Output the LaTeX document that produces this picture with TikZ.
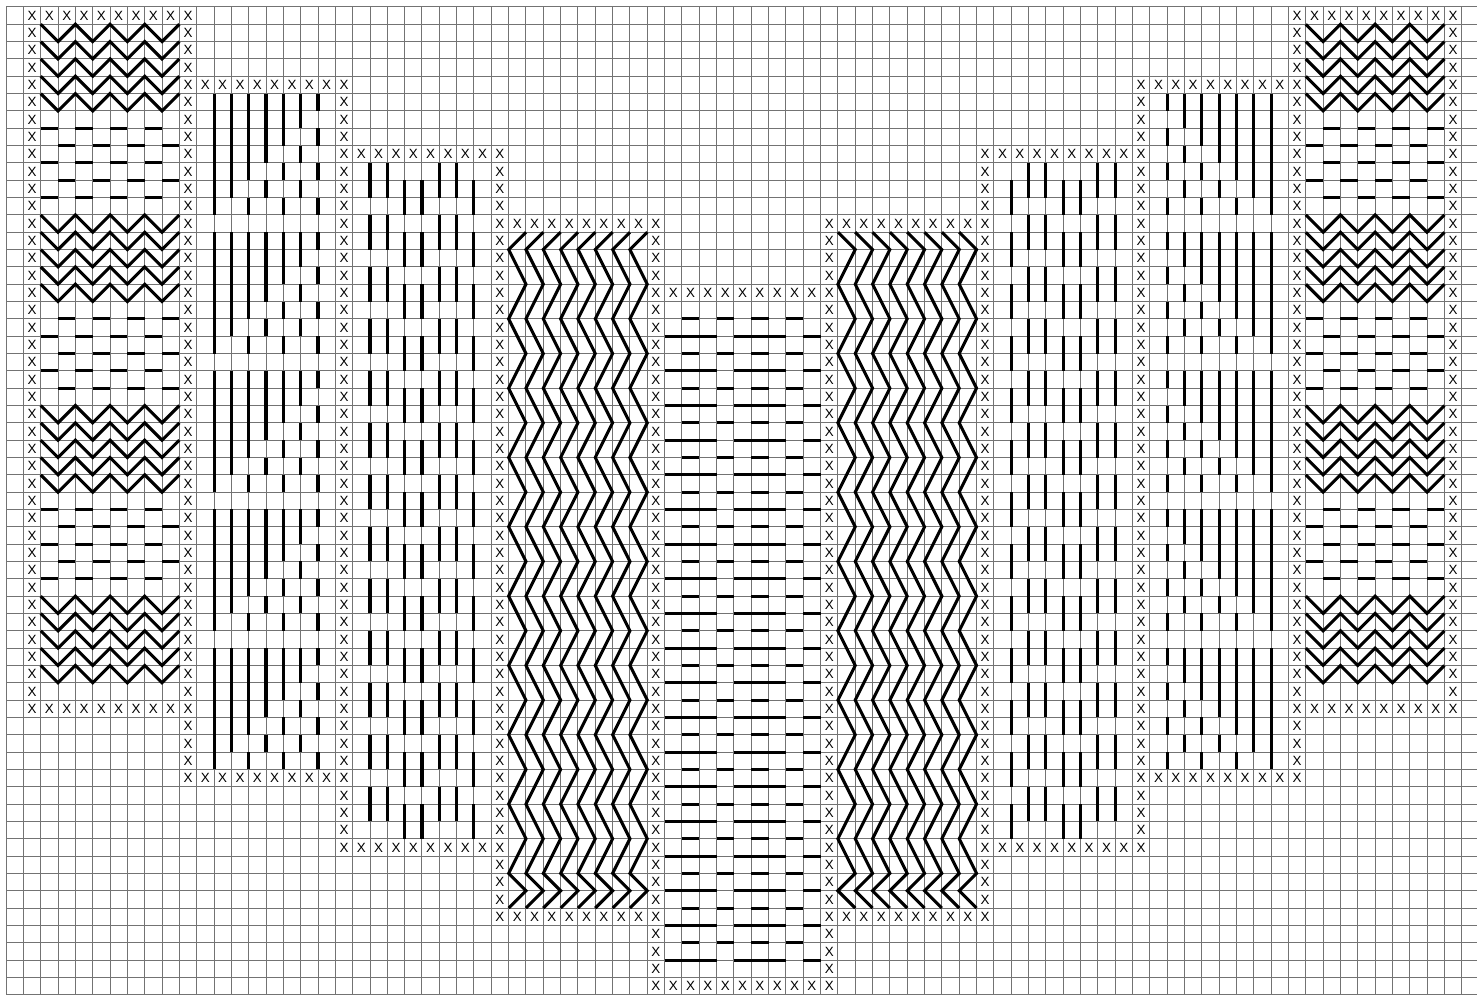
\documentclass[tikz,border=0pt]{standalone}
\usepackage{fontspec}
\setmainfont{Liberation Sans}

\begin{document}
\begin{tikzpicture}[
    x=5mm, y=-5mm,
    griglia/.style={line width=0.8pt,black!55},
    filo/.style={line width=2.5pt,black},
    croce/.style={inner sep=0pt,font=\fontsize{11}{12}\selectfont}]

  \useasboundingbox (-0.35,-0.4) rectangle (84.88,57.07);

  % ---- la griglia -----------------------------------------------------------
  \foreach \i in {0,...,84} \draw[griglia] (\i,0) -- (\i,57);
  \foreach \j in {0,...,57} \draw[griglia] (0,\j) -- (84.88,\j);

  % ---- croci: riga sopra e riga sotto di ogni blocco ------------------------
  \foreach \ca/\cb/\ra/\rb [count=\k] in {1/10/0/40,10/19/4/44,19/28/8/48,
      28/37/12/52,37/47/16/56,47/56/12/52,56/65/8/48,65/74/4/44,74/83/0/40}
    \foreach \c in {\ca,...,\cb} {
      \node[croce] (s\k-\c) at (\c+0.5,\ra+0.5) {X};
      \node[croce] (i\k-\c) at (\c+0.5,\rb+0.5) {X};
    }

  % ---- croci: colonne (saltando le righe gia' fatte) ------------------------
  \foreach \c/\ra/\rb/\sa/\sb in {1/1/39/0/0,10/1/43/4/40,19/5/47/8/44,
      28/9/51/12/48,37/13/55/16/52,47/13/55/16/52,56/9/51/12/48,
      65/5/47/8/44,74/1/43/4/40,83/1/39/0/0}
    \foreach \r in {\ra,...,\rb} {
      \ifnum\r=\sa\else\ifnum\r=\sb\else
        \node[croce] (v\c-\r) at (\c+0.5,\r+0.5) {X};
      \fi\fi
    }

  % ---- blocchi laterali, a sinistra e (specchiati) a destra -----------------
  \foreach \s/\o in {1/0,-1/85} {
    % blocchi 1 e 9: zigzag e trattini orizzontali
    \foreach \b in {1,12,23,34}
      \foreach \d in {0,...,4}
        \draw[filo] (\o+\s*2,\b+\d)
          \foreach \i in {3,5,7,9} { -- (\o+\s*\i,\b+\d+1) -- (\o+\s*\i+\s,\b+\d) };
    \foreach \r in {7,9,11,19,21,29,31,33}
      \foreach \i in {2,4,6,8} \draw[filo] (\o+\s*\i,\r) -- (\o+\s*\i+\s,\r);
    \foreach \r in {8,10,18,20,22,30,32}
      \foreach \i in {3,5,7,9} \draw[filo] (\o+\s*\i,\r) -- (\o+\s*\i+\s,\r);

    % blocchi 2 e 8: scalette verticali
    \foreach \b in {5,13,21,29,37} {
      \foreach \k in {0,...,6}
        \draw[filo] (\o+\s*12+\s*\k,\b) -- ++(0,7-\k);
      \foreach \i/\d in {14/6,15/5,16/4,16/6,17/3,17/5,18/2,18/4,18/6}
        \draw[filo] (\o+\s*\i,\b+\d) -- ++(0,1);
    }

    % blocchi 3 e 7: tratti verticali sfalsati
    \foreach \i in {21,22,25,26}
      \foreach \r in {9,12,...,45} \draw[filo] (\o+\s*\i,\r) -- ++(0,2);
    \foreach \i in {23,24,27}
      \foreach \r in {10,13,...,46} \draw[filo] (\o+\s*\i,\r) -- ++(0,2);

    % blocchi 4 e 6: zigzag verticali
    \foreach \i in {29,...,36}
      \draw[filo] (\o+\s*\i+\s,13) -- (\o+\s*\i,14)
        \foreach \j in {16,20,...,48} { -- (\o+\s*\i+\s,\j) -- (\o+\s*\i,\j+2) }
        -- (\o+\s*\i+\s,51) -- (\o+\s*\i,52);
  }

  % ---- blocco 5 (centro): trattini orizzontali ------------------------------
  \foreach \r in {18,20,...,54}
    \foreach \i in {39,41,43,45} \draw[filo] (\i,\r) -- ++(1,0);
  \foreach \r in {19,21,...,55} {
    \draw[filo] (38,\r) -- (41,\r);
    \draw[filo] (42,\r) -- (45,\r);
    \draw[filo] (46,\r) -- (47,\r);
  }

\end{tikzpicture}
\end{document}
